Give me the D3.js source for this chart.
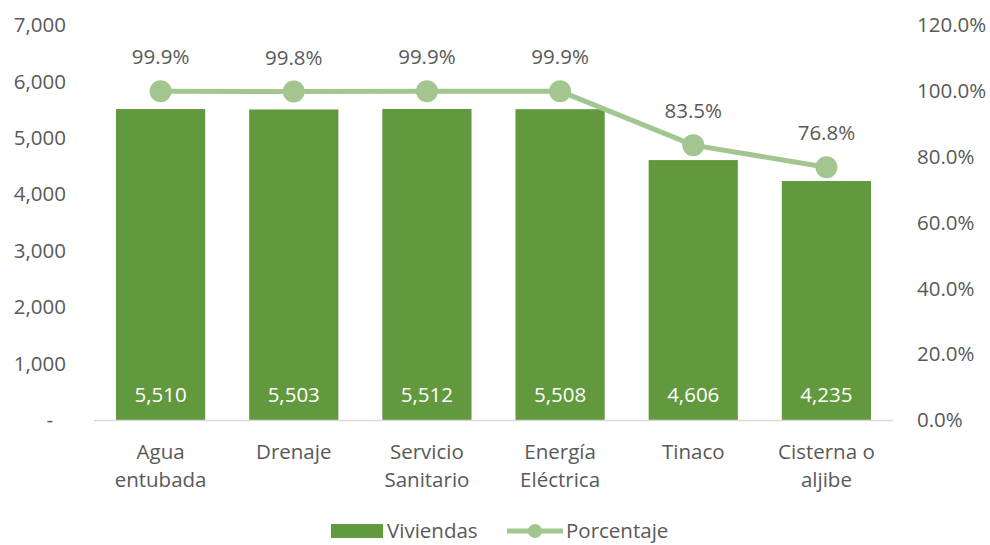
<!DOCTYPE html>
<html><head><meta charset="utf-8">
<script src="https://cdn.jsdelivr.net/npm/d3@7"></script>
<style>body{margin:0;background:#fff}svg{display:block}text{font-family:"Open Sans",sans-serif}</style>
</head><body><svg id="c" width="990" height="545"></svg>
<script>
const categories = [["Agua","entubada"],["Drenaje"],["Servicio","Sanitario"],["Energía","Eléctrica"],["Tinaco"],["Cisterna o","aljibe"]];
const viviendas = [5510, 5503, 5512, 5508, 4606, 4235];
const porcentaje = [99.9, 99.8, 99.9, 99.9, 83.5, 76.8];
const leftTicks = [0,1000,2000,3000,4000,5000,6000,7000];
const rightTicks = [0,20,40,60,80,100,120];
const seriesNames = ["Viviendas","Porcentaje"];

const svg = d3.select("#c");
const L = 94, R = 893, T = 25, B = 420;
const barColor = "#62993E", lineColor = "#A3C690", textColor = "#595959";
const x = d3.scaleBand().domain(d3.range(categories.length)).range([L,R]).paddingInner(0.33).paddingOuter(0.165);
const y = d3.scaleLinear().domain([0,7000]).range([B,T]);
const y2 = d3.scaleLinear().domain([0,120]).range([B,T]);
const fs = 20.5;

// left axis labels
svg.append("g").selectAll("text").data(leftTicks).join("text")
  .attr("x", d => d===0 ? 53 : 66).attr("y", d => y(d)).attr("dy","0.35em")
  .attr("text-anchor","end").attr("font-size",fs).attr("fill",textColor)
  .text(d => d===0 ? "-" : d3.format(",")(d));
// right axis labels
svg.append("g").selectAll("text").data(rightTicks).join("text")
  .attr("x", 917).attr("y", d => y2(d)).attr("dy","0.35em")
  .attr("text-anchor","start").attr("font-size",fs).attr("fill",textColor)
  .text(d => d3.format(".1f")(d)+"%");

// bars
svg.append("g").selectAll("rect").data(viviendas).join("rect")
  .attr("x",(d,i)=>x(i)).attr("width",x.bandwidth())
  .attr("y",d=>y(d)).attr("height",d=>B-y(d)).attr("fill",barColor);

// baseline
svg.append("line").attr("x1",L).attr("x2",R).attr("y1",B+0.5).attr("y2",B+0.5).attr("stroke","#D9D9D9").attr("stroke-width",1.5);

// bar value labels
svg.append("g").selectAll("text").data(viviendas).join("text")
  .attr("x",(d,i)=>x(i)+x.bandwidth()/2).attr("y",B-25).attr("dy","0.35em")
  .attr("text-anchor","middle").attr("font-size",fs).attr("fill","#fff")
  .text(d=>d3.format(",")(d));

// line
const cx = i => x(i)+x.bandwidth()/2;
svg.append("path").datum(porcentaje)
  .attr("d", d3.line().x((d,i)=>cx(i)).y(d=>y2(d)))
  .attr("fill","none").attr("stroke",lineColor).attr("stroke-width",5).attr("stroke-linejoin","round");
svg.append("g").selectAll("circle").data(porcentaje).join("circle")
  .attr("cx",(d,i)=>cx(i)).attr("cy",d=>y2(d)).attr("r",11).attr("fill",lineColor);
svg.append("g").selectAll("text").data(porcentaje).join("text")
  .attr("x",(d,i)=>cx(i)).attr("y",d=>y2(d)-34).attr("dy","0.35em")
  .attr("text-anchor","middle").attr("font-size",fs).attr("fill",textColor)
  .text(d=>d3.format(".1f")(d)+"%");

// category labels
const cg = svg.append("g").selectAll("text").data(categories).join("text")
  .attr("x",(d,i)=>cx(i)).attr("y",452).attr("text-anchor","middle").attr("font-size",fs).attr("fill",textColor);
cg.selectAll("tspan").data(d=>d).join("tspan")
  .attr("x",function(){return this.parentNode.getAttribute("x");})
  .attr("dy",(d,j)=> j===0 ? "0.35em" : 28).text(d=>d);

// legend
const ly = 531;
const lg = svg.append("g");
lg.append("rect").attr("x",331).attr("y",ly-7).attr("width",52).attr("height",14).attr("fill",barColor);
lg.append("text").attr("x",387).attr("y",ly).attr("dy","0.35em").attr("font-size",fs).attr("fill",textColor).text(seriesNames[0]);
lg.append("line").attr("x1",507).attr("x2",563).attr("y1",ly).attr("y2",ly).attr("stroke",lineColor).attr("stroke-width",5);
lg.append("circle").attr("cx",535).attr("cy",ly).attr("r",7).attr("fill",lineColor);
lg.append("text").attr("x",566).attr("y",ly).attr("dy","0.35em").attr("font-size",fs).attr("fill",textColor).text(seriesNames[1]);
</script></body></html>
